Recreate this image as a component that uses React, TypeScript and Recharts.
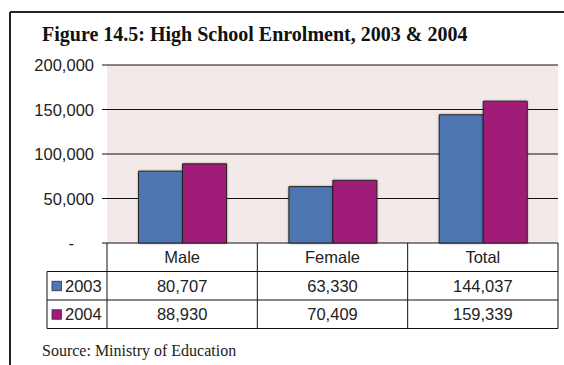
import { Bar, BarChart, CartesianGrid, Rectangle, XAxis, YAxis } from "recharts"

const categories = ["Male", "Female", "Total"]
const years = ["2003", "2004"]
const enrol2003 = [80707, 63330, 144037]
const enrol2004 = [88930, 70409, 159339]
const yTicks = [0, 50000, 100000, 150000, 200000]

const colors = ["#4e76b2", "#a11b78"]
const W = 564
const H = 365
const plot = { left: 107, right: 558, top: 65, bottom: 243 }
const rowH = 28.5
const sans = "'Liberation Sans', Arial, sans-serif"
const serif = "'Liberation Serif', 'Times New Roman', serif"
const fs = 16.5

const data = categories.map((c, i) => ({ name: c, y2003: enrol2003[i], y2004: enrol2004[i] }))

function fmtNum(n: number): string {
  if (n === 0) return "-"
  return n.toLocaleString("en-US")
}

// category names sit in the header row of the data table
function CatTick(props: any) {
  const { x, payload } = props
  return (
    <text x={x} y={plot.bottom + rowH / 2} textAnchor="middle" dominantBaseline="central" fontFamily={sans} fontSize={fs} fill="#222">
      {payload.value}
    </text>
  )
}

// excel accounting style: zero is a dash pushed away from the axis
function ValTick(props: any) {
  const { x, y, payload } = props
  const v = payload.value as number
  return (
    <text x={v === 0 ? x - 20 : x} y={y} textAnchor="end" dominantBaseline="central" fontFamily={sans} fontSize={fs} fill="#222">
      {fmtNum(v)}
    </text>
  )
}

function ShadowBar(props: any) {
  return <Rectangle {...props} filter="url(#barShadow)" />
}

function DataTable() {
  const colW = (plot.right - plot.left) / categories.length
  const rows = [enrol2003, enrol2004]
  const tableLeft = 47
  const y0 = plot.bottom
  const y1 = y0 + rowH
  const yEnd = y1 + rowH * rows.length
  return (
    <g>
      {[0, 1, 2, 3].map((i) => (
        <line key={"v" + i} x1={plot.left + i * colW} x2={plot.left + i * colW} y1={y0} y2={yEnd} stroke="#111" strokeWidth={1} />
      ))}
      <line x1={tableLeft} x2={tableLeft} y1={y1} y2={yEnd} stroke="#111" />
      {[y1, y1 + rowH, yEnd].map((yy, i) => (
        <line key={"h" + i} x1={tableLeft} x2={plot.right} y1={yy} y2={yy} stroke="#111" />
      ))}
      {rows.map((vals, r) => {
        const cy = y1 + rowH * r + rowH / 2
        return (
          <g key={"r" + r}>
            <rect x={tableLeft + 5} y={cy - 4.5} width={9.5} height={9.5} fill={colors[r]} stroke="#333" strokeWidth={0.8} />
            <text x={tableLeft + 18} y={cy} dominantBaseline="central" fontFamily={sans} fontSize={fs} fill="#222">
              {years[r]}
            </text>
            {vals.map((v, i) => (
              <text key={i} x={plot.left + (i + 0.5) * colW} y={cy} textAnchor="middle" dominantBaseline="central" fontFamily={sans} fontSize={fs} fill="#222">
                {fmtNum(v)}
              </text>
            ))}
          </g>
        )
      })}
    </g>
  )
}

export default function App() {
  return (
    <div style={{ position: "absolute", left: 0, top: 0, width: W, height: H, background: "#fff" }}>
      <svg width={0} height={0} style={{ position: "absolute" }}>
        <defs>
          <filter id="barShadow" x="-20%" y="-20%" width="140%" height="140%">
            <feDropShadow dx={0} dy={0} stdDeviation={1} floodColor="#000" floodOpacity={0.35} />
          </filter>
        </defs>
      </svg>
      <BarChart
        width={W}
        height={H}
        data={data}
        margin={{ top: plot.top, right: W - plot.right, bottom: 0, left: 0 }}
        barGap={0}
        barCategoryGap="21%"
      >
        <CartesianGrid vertical={false} horizontal stroke="#111" strokeOpacity={1} fill="#f3e9e8" fillOpacity={1} />
        <XAxis dataKey="name" axisLine={false} tickLine={false} tick={<CatTick />} height={H - plot.bottom} interval={0} />
        <YAxis
          width={plot.left}
          domain={[0, 200000]}
          ticks={yTicks}
          axisLine={false}
          tickLine={{ stroke: "#111" }}
          tickSize={5}
          tickMargin={8}
          tick={<ValTick />}
        />
        <Bar dataKey="y2003" fill={colors[0]} stroke="#222" strokeWidth={1} shape={<ShadowBar />} isAnimationActive={false} />
        <Bar dataKey="y2004" fill={colors[1]} stroke="#222" strokeWidth={1} shape={<ShadowBar />} isAnimationActive={false} />
      </BarChart>
      <svg width={W} height={H} style={{ position: "absolute", left: 0, top: 0, pointerEvents: "none" }}>
        <line x1={10} x2={10} y1={12} y2={H} stroke="#222" strokeWidth={2} />
        <line x1={10} x2={W} y1={12} y2={12} stroke="#222" strokeWidth={2} />
        <text x={42} y={41} fontFamily={serif} fontWeight="bold" fontSize={20} fill="#111">
          Figure 14.5: High School Enrolment, 2003 &amp; 2004
        </text>
        <DataTable />
        <text x={42} y={356} fontFamily={serif} fontSize={16} fill="#222">
          Source: Ministry of Education
        </text>
      </svg>
    </div>
  )
}
